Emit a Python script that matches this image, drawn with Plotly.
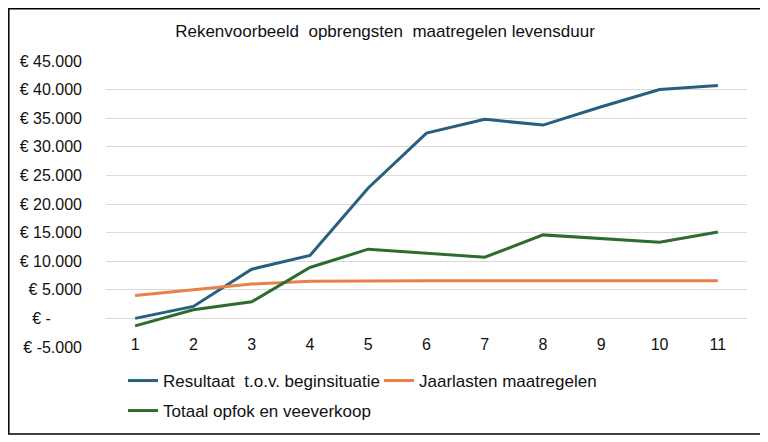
import plotly.graph_objects as go

categories = ["1", "2", "3", "4", "5", "6", "7", "8", "9", "10", "11"]
resultaat = [0, 2100, 8600, 11000, 22800, 32400, 34800, 33800, 37000, 40000, 40700]
jaarlasten = [4000, 5000, 6000, 6500, 6600, 6600, 6600, 6600, 6600, 6600, 6600]
totaal = [-1300, 1500, 2900, 8900, 12100, 11400, 10700, 14600, 13900, 13300, 15100]
y_tickvals = [-5000, 0, 5000, 10000, 15000, 20000, 25000, 30000, 35000, 40000, 45000]
y_ticktext = ["€ -5.000", "€ -" + "\u00a0" * 7, "€ 5.000", "€ 10.000", "€ 15.000", "€ 20.000",
              "€ 25.000", "€ 30.000", "€ 35.000", "€ 40.000", "€ 45.000"]

# page offset (body margin) compensation
OFF = 8
W, H = 768 - OFF, 442 - OFF
L, R, T, B = 106 - OFF, 21, 61 - OFF, 95
PW, PH = W - L - R, H - T - B

def px(x):  # page x -> paper
    return (x - OFF - L) / PW

def py(y):  # page y -> paper
    return (H - B - (y - OFF)) / PH

FONT = "Liberation Sans, Arial, sans-serif"
TXT = "#111111"

fig = go.Figure()
fig.add_trace(go.Scatter(x=categories, y=resultaat, mode="lines", name="Resultaat  t.o.v. beginsituatie",
                         line=dict(color="#27607f", width=3), legend="legend"))
fig.add_trace(go.Scatter(x=categories, y=jaarlasten, mode="lines", name="Jaarlasten maatregelen",
                         line=dict(color="#e6814a", width=3), legend="legend"))
fig.add_trace(go.Scatter(x=categories, y=totaal, mode="lines", name="Totaal opfok en veeverkoop",
                         line=dict(color="#2d6b2e", width=3), legend="legend2"))

fig.update_layout(
    width=W, height=H,
    margin=dict(l=L, r=R, t=T, b=B),
    paper_bgcolor="white", plot_bgcolor="white",
    font=dict(family=FONT, size=16, color=TXT),
    title=dict(text="Rekenvoorbeeld  opbrengsten  maatregelen levensduur", x=(385 - OFF) / W, xanchor="center",
               y=1 - (31 - OFF) / H, yanchor="middle", xref="container", yref="container",
               font=dict(family=FONT, size=17, color=TXT)),
    xaxis=dict(type="category", range=[-0.5, 10.5], showgrid=False, zeroline=False, showline=False,
               ticks="", ticklabelstandoff=-14, tickfont=dict(size=16)),
    yaxis=dict(range=[-5000, 45000], tickvals=y_tickvals, ticktext=y_ticktext, showgrid=True,
               gridcolor="#d9d9d9", gridwidth=1, zeroline=False, showline=False, ticks="",
               ticklabelstandoff=23, tickfont=dict(size=16)),
    legend=dict(orientation="h", x=px(123), xanchor="left", y=py(381), yanchor="middle",
                font=dict(size=17), bgcolor="rgba(0,0,0,0)", entrywidth=211, entrywidthmode="pixels"),
    legend2=dict(orientation="h", x=px(123), xanchor="left", y=py(411), yanchor="middle",
                 font=dict(size=17), bgcolor="rgba(0,0,0,0)"),
    showlegend=True,
)

fig.add_shape(type="rect", xref="paper", yref="paper", x0=px(8.8), x1=px(762), y0=py(434), y1=py(8.8),
              line=dict(color="black", width=1.5), fillcolor="rgba(0,0,0,0)", layer="below")

fig.write_html("out.html")
